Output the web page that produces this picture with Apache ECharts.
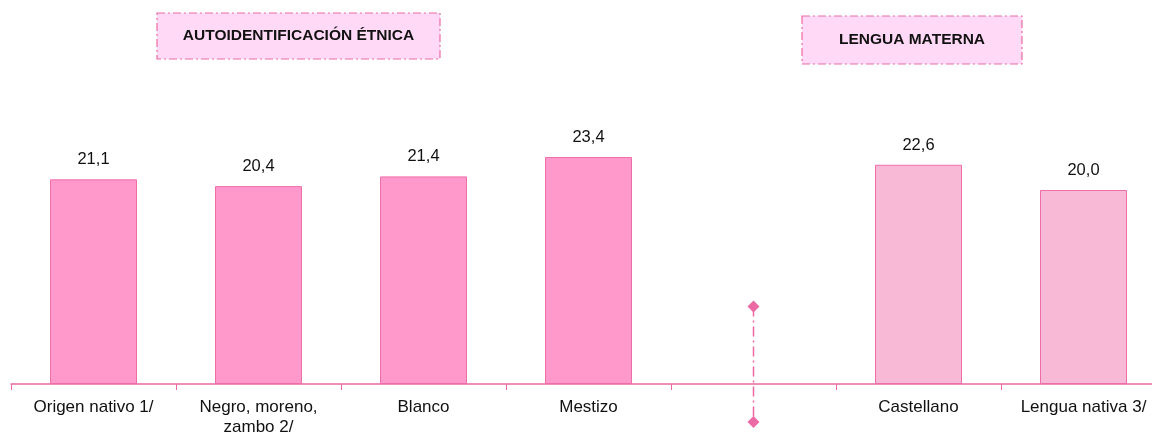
<!DOCTYPE html>
<html>
<head>
<meta charset="utf-8">
<script src="https://cdn.jsdelivr.net/npm/echarts@6/dist/echarts.min.js"></script>
<style>
  html, body { margin: 0; padding: 0; background: #fff; overflow: hidden; }
  #chart { width: 1166px; height: 440px; }
</style>
</head>
<body>
<div id="chart"></div>
<script>
var categories = ['Origen nativo 1/', 'Negro, moreno,\nzambo 2/', 'Blanco', 'Mestizo', '', 'Castellano', 'Lengua nativa 3/']
var values = [21.1, 20.4, 21.4, 23.4, null, 22.6, 20.0]
var groups = ['etnia', 'etnia', 'etnia', 'etnia', null, 'lengua', 'lengua']
var group_titles = ['AUTOIDENTIFICACIÓN ÉTNICA', 'LENGUA MATERNA']

var group_colors = {
    etnia: '#ff99cc',
    lengua: '#f8b9d6'
}

var font = 'Arial, "Liberation Sans", sans-serif'
var pink_line = '#ec6aa4'

var myChart = echarts.init(document.getElementById('chart'))

var bar_data = []
for (var i = 0; i < values.length; i++) {
    bar_data.push({
        value: values[i],
        itemStyle: {
            color: groups[i] ? group_colors[groups[i]] : 'transparent',
            borderColor: '#f06ea8',
            borderWidth: 1
        }
    })
}

var option = {
    animation: false,
    grid: {
        left: 11,
        right: 0,
        top: 93,
        bottom: 56
    },
    xAxis: {
        type: 'category',
        data: categories,
        axisLine: { lineStyle: { color: pink_line, width: 1.5 } },
        axisTick: { show: true, length: 6, lineStyle: { color: pink_line } },
        axisLabel: {
            color: '#111',
            fontFamily: font,
            fontSize: 17,
            lineHeight: 20,
            margin: 13,
            interval: 0
        }
    },
    yAxis: {
        type: 'value',
        min: 0,
        max: 30,
        show: false
    },
    series: [
        {
            type: 'bar',
            barWidth: 87,
            data: bar_data,
            label: {
                show: true,
                position: 'top',
                distance: 11,
                color: '#111',
                fontFamily: font,
                fontSize: 16.5,
                formatter: function (p) {
                    return p.value == null ? '' : p.value.toFixed(1).replace('.', ',')
                }
            }
        }
    ]
}
myChart.setOption(option)

// separator between the two groups and the group header boxes
var sepX = myChart.convertToPixel({ xAxisIndex: 0 }, 4)
var axisY = myChart.convertToPixel({ yAxisIndex: 0 }, 0)
var topY = myChart.convertToPixel({ yAxisIndex: 0 }, 8)
var botY = axisY + 38

function headerBox(text, x, y, w, h) {
    return {
        type: 'group',
        children: [
            {
                type: 'rect',
                shape: { x: x, y: y, width: w, height: h },
                style: {
                    fill: '#ffd9f6',
                    stroke: pink_line,
                    lineWidth: 1.2,
                    lineDash: [8, 3, 2, 3]
                }
            },
            {
                type: 'text',
                x: x + w / 2,
                y: y + h / 2,
                style: {
                    text: text,
                    fill: '#111',
                    font: 'bold 15.5px ' + font,
                    align: 'center',
                    verticalAlign: 'middle'
                }
            }
        ]
    }
}

myChart.setOption({
    graphic: [
        {
            type: 'line',
            shape: { x1: sepX, y1: topY, x2: sepX, y2: botY },
            style: { stroke: pink_line, lineWidth: 1.5, lineDash: [10, 4, 2, 4] }
        },
        {
            type: 'polygon',
            shape: { points: [[sepX, topY - 6], [sepX + 6, topY], [sepX, topY + 6], [sepX - 6, topY]] },
            style: { fill: pink_line }
        },
        {
            type: 'polygon',
            shape: { points: [[sepX, botY - 6], [sepX + 6, botY], [sepX, botY + 6], [sepX - 6, botY]] },
            style: { fill: pink_line }
        },
        headerBox(group_titles[0], 157, 13, 283, 46),
        headerBox(group_titles[1], 802, 16, 220, 48)
    ]
})
</script>
</body>
</html>
